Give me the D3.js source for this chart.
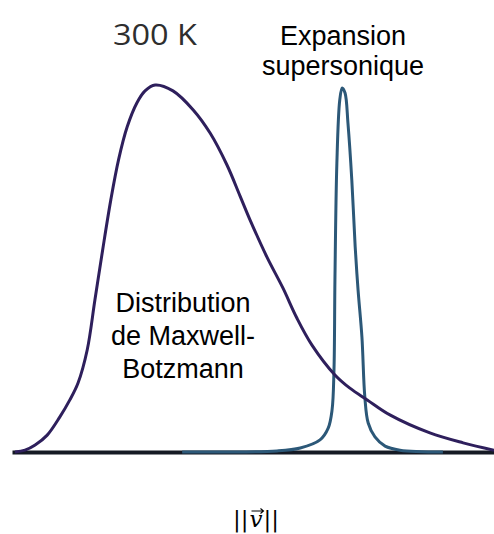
<!DOCTYPE html>
<html>
<head>
<meta charset="utf-8">
<script src="https://cdn.jsdelivr.net/npm/d3@7"></script>
<style>
  html, body { margin: 0; padding: 0; background: #fff; }
  svg { display: block; }
</style>
</head>
<body>
<svg id="chart" width="494" height="534"></svg>
<script>
// Maxwell-Boltzmann distribution (300 K): speed (arbitrary units, 0-100) vs relative density (peak = 100)
const mbSpeed   = [0.6, 2.7, 4.8, 7.3, 9.9, 12.0, 13.7, 15.6, 17.2, 18.8, 20.5, 22.1, 23.9, 25.9, 27.6, 29.7, 33.4, 37.6, 41.1, 44.6, 47.3, 49.4, 52.9, 56.2, 59.1, 62.2, 67.0, 70.1, 73.7, 78.4, 86.7, 93.6, 100];
const mbDensity = [0, 0.5, 1.9, 4.6, 9.5, 14.2, 18.8, 27.8, 41.4, 55.0, 68.7, 79.6, 88.6, 95.1, 98.4, 100, 98.4, 93.2, 86.9, 78.2, 69.8, 63.2, 53.1, 44.7, 36.5, 29.2, 21.0, 17.4, 14.2, 10.1, 5.2, 2.5, 0.5];

// Supersonic expansion: narrow peak
const ssSpeed   = [35.3, 55.0, 59.8, 63.9, 65.6, 66.4, 66.8, 67.0, 67.4, 68.0, 68.5, 69.1, 69.7, 70.5, 71.2, 71.8, 72.6, 73.2, 73.9, 75.3, 77.4, 80.5, 89.4];
const ssDensity = [0, 0.3, 1.1, 3.3, 6.5, 11.4, 22.3, 46.9, 78.7, 95.9, 99.2, 97.8, 89.6, 74.1, 55.9, 44.1, 31.3, 15.0, 7.9, 4.1, 1.6, 0.5, 0];

const labels = {
  temp: "300 K",
  ss: ["Expansion", "supersonique"],
  mb: ["Distribution", "de Maxwell-", "Botzmann"]
};

const svg = d3.select("#chart");

const x = d3.scaleLinear().domain([0, 100]).range([12, 494]);
const y = d3.scaleLinear().domain([0, 100]).range([452, 85]);

// baseline axis (no ticks)
const axis = svg.append("g")
  .attr("transform", `translate(0,${y(0)})`)
  .call(d3.axisBottom(x).tickSize(0).tickFormat(""));
axis.select(".domain").attr("stroke", "#151a24").attr("stroke-width", 4);

const line = d3.line()
  .x(d => x(d[0]))
  .y(d => y(d[1]))
  .curve(d3.curveCatmullRom.alpha(0.5));

const ssData = ssSpeed.map((s, i) => [s, ssDensity[i]]);
const mbData = mbSpeed.map((s, i) => [s, mbDensity[i]]);

svg.append("path")
  .datum(ssData)
  .attr("d", line)
  .attr("fill", "none")
  .attr("stroke", "#2c5878")
  .attr("stroke-width", 3)
  .attr("stroke-linejoin", "round");

svg.append("path")
  .datum(mbData)
  .attr("d", line)
  .attr("fill", "none")
  .attr("stroke", "#2e1f5c")
  .attr("stroke-width", 3)
  .attr("stroke-linejoin", "round");

// Texts
svg.append("text")
  .attr("x", 113).attr("y", 45)
  .attr("font-family", "'Open Sans', 'Noto Sans', sans-serif")
  .attr("font-size", 30)
  .attr("textLength", 84)
  .attr("lengthAdjust", "spacingAndGlyphs")
  .attr("fill", "#2e2e2e")
  .text(labels.temp);

const ssText = svg.append("text")
  .attr("text-anchor", "middle")
  .attr("font-family", "'Liberation Sans', Arial, sans-serif")
  .attr("font-size", 27)
  .attr("fill", "#000");
labels.ss.forEach((t, i) => {
  ssText.append("tspan").attr("x", 343).attr("y", 45 + i * 30).text(t);
});

const mbText = svg.append("text")
  .attr("text-anchor", "middle")
  .attr("font-family", "'Liberation Sans', Arial, sans-serif")
  .attr("font-size", 27)
  .attr("fill", "#000");
labels.mb.forEach((t, i) => {
  mbText.append("tspan").attr("x", 183).attr("y", 312 + i * 33).text(t);
});

// axis label ||v|| (arrow drawn as a small path above the v)
const vLabel = svg.append("text")
  .attr("x", 233).attr("y", 527)
  .attr("font-family", "'DejaVu Serif', 'Liberation Serif', serif")
  .attr("font-size", 23)
  .attr("fill", "#000");
vLabel.append("tspan").text("||");
vLabel.append("tspan").attr("font-style", "italic").attr("dx", 1).text("v");
vLabel.append("tspan").attr("dx", 1).text("||");

const node = vLabel.node();
const vs = node.getStartPositionOfChar(2).x;
const ve = node.getEndPositionOfChar(2).x;
const ax0 = vs + 2, ax1 = ve + 1, ay = 511;
svg.append("path")
  .attr("d", `M${ax0},${ay}L${ax1},${ay}M${ax1 - 3},${ay - 2.5}L${ax1},${ay}L${ax1 - 3},${ay + 2.5}`)
  .attr("fill", "none")
  .attr("stroke", "#000")
  .attr("stroke-width", 1.1);
</script>
</body>
</html>
